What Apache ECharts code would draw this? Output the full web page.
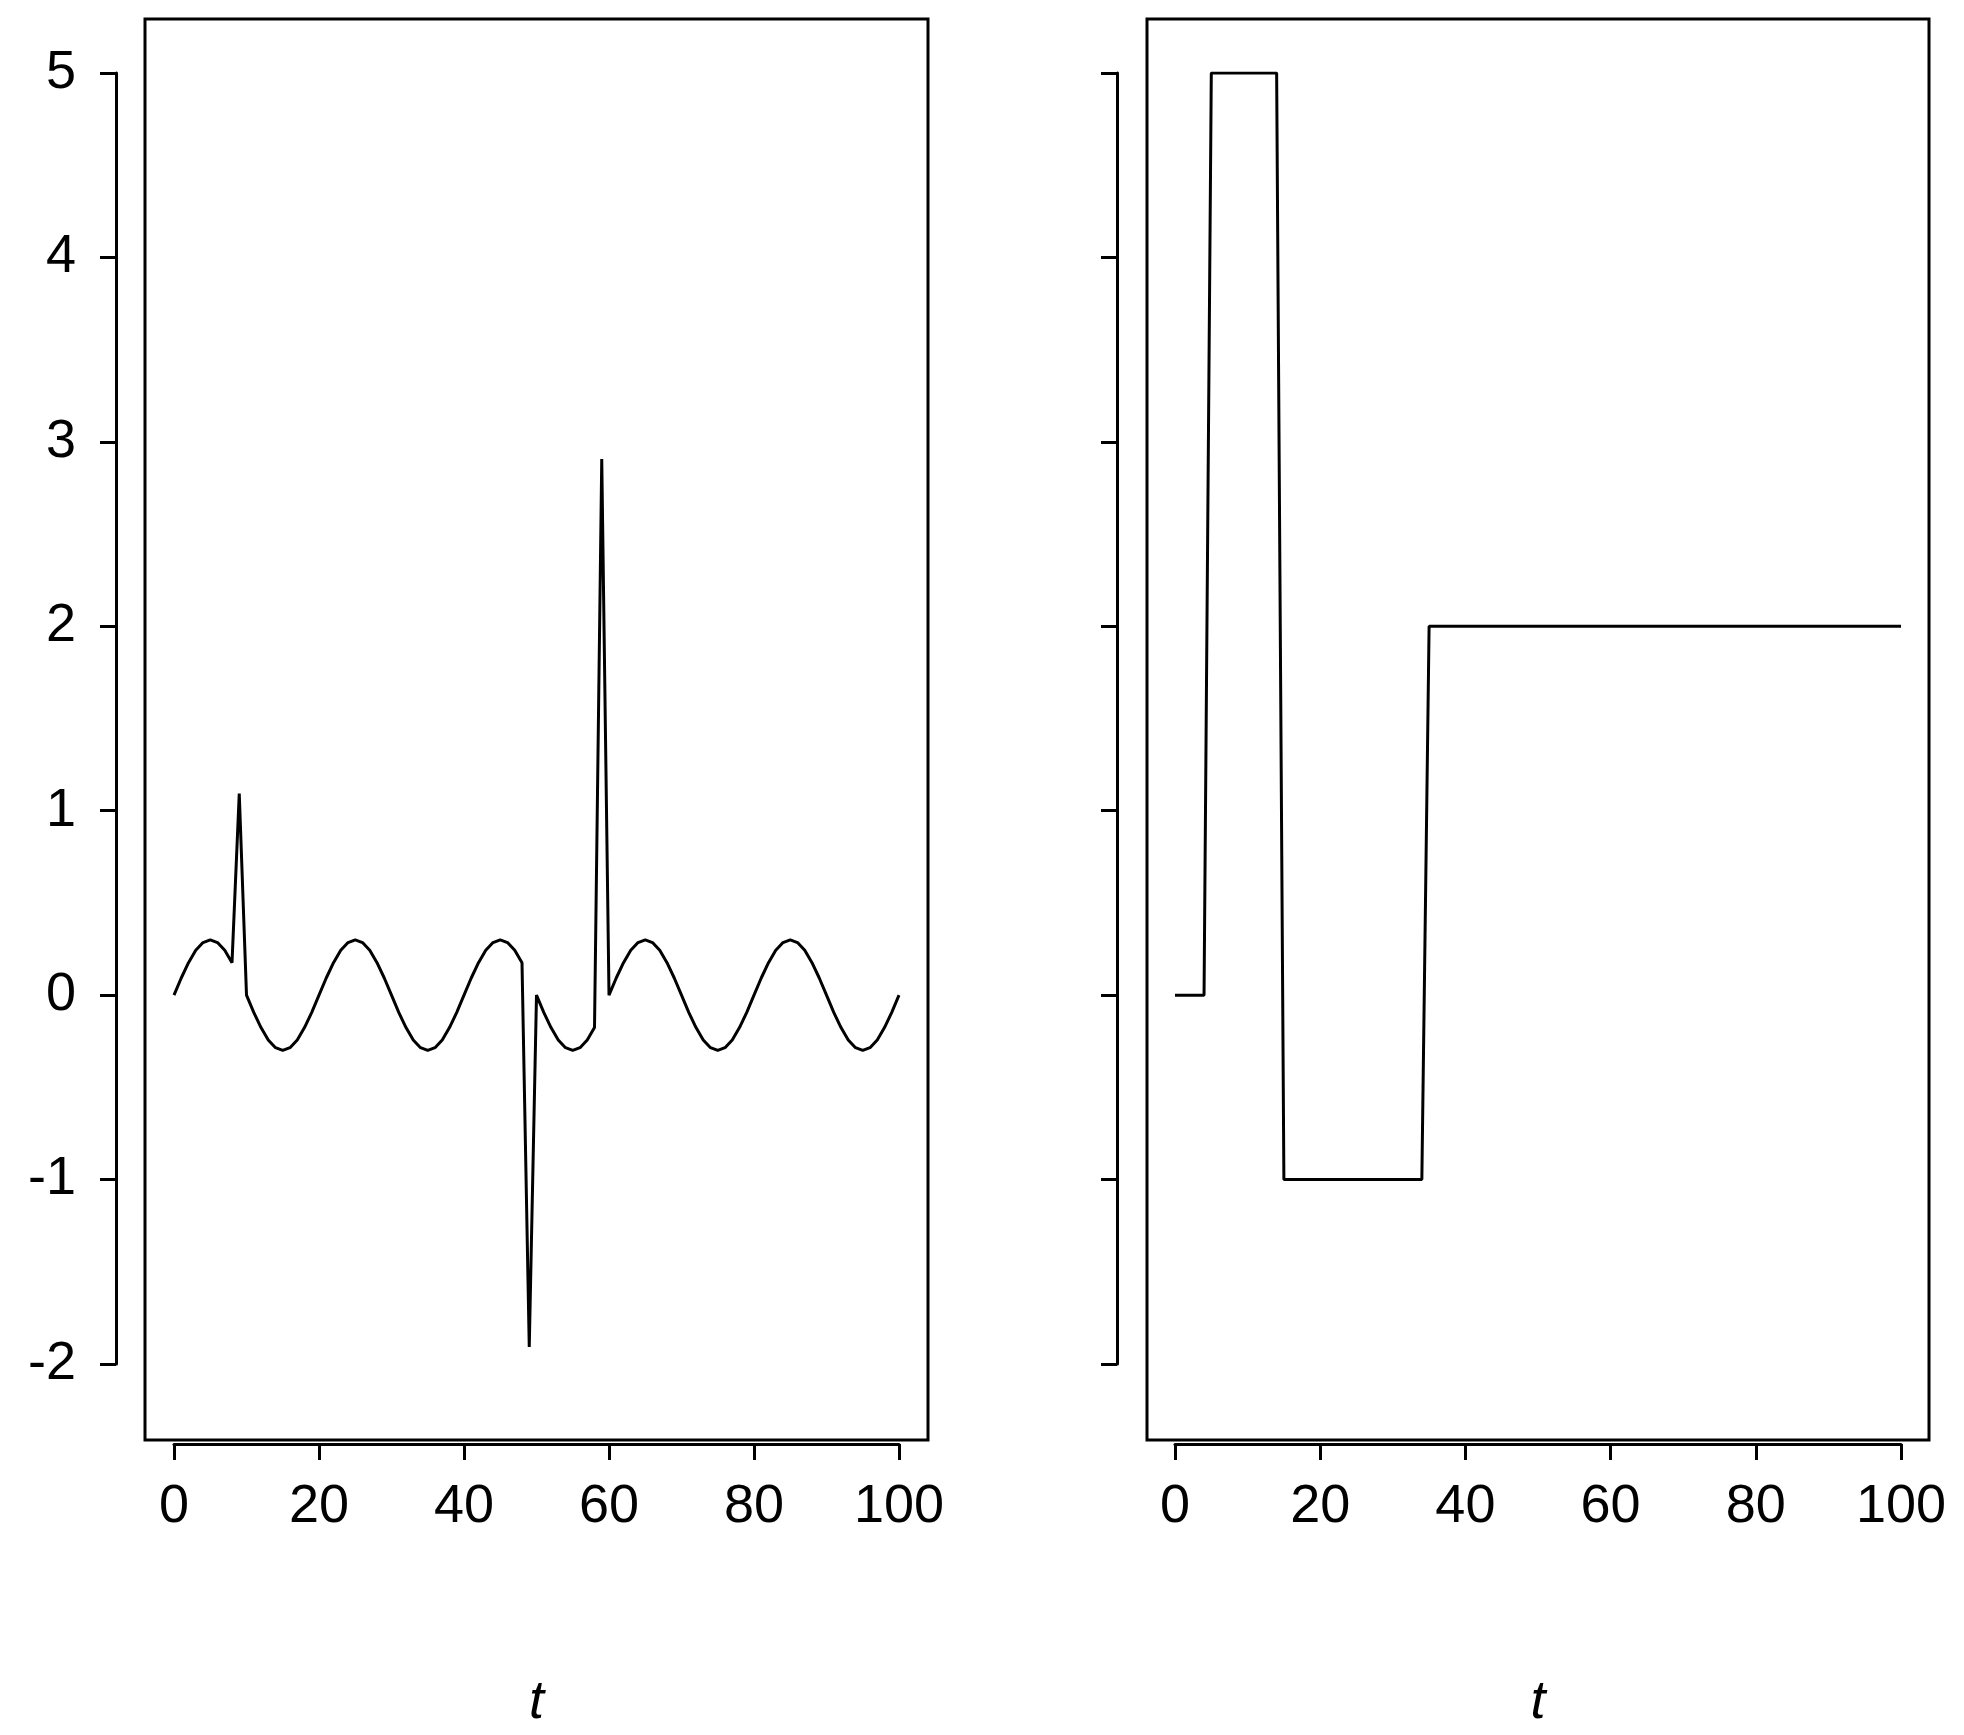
<!DOCTYPE html>
<html>
<head>
<meta charset="utf-8">
<script src="https://cdn.jsdelivr.net/npm/echarts@6/dist/echarts.min.js"></script>
<style>
  html, body { margin: 0; padding: 0; background: #fff; }
  #chart { width: 1964px; height: 1735px; }
</style>
</head>
<body>
<div id="chart"></div>
<script>
// 左图：t = 0..100 的取值
const leftValues = [
  0, 0.093, 0.176, 0.243, 0.285, 0.3, 0.285, 0.243, 0.176, 1.093,
  0, -0.093, -0.176, -0.243, -0.285, -0.3, -0.285, -0.243, -0.176, -0.093,
  0, 0.093, 0.176, 0.243, 0.285, 0.3, 0.285, 0.243, 0.176, 0.093,
  0, -0.093, -0.176, -0.243, -0.285, -0.3, -0.285, -0.243, -0.176, -0.093,
  0, 0.093, 0.176, 0.243, 0.285, 0.3, 0.285, 0.243, 0.176, -1.907,
  0, -0.093, -0.176, -0.243, -0.285, -0.3, -0.285, -0.243, -0.176, 2.907,
  0, 0.093, 0.176, 0.243, 0.285, 0.3, 0.285, 0.243, 0.176, 0.093,
  0, -0.093, -0.176, -0.243, -0.285, -0.3, -0.285, -0.243, -0.176, -0.093,
  0, 0.093, 0.176, 0.243, 0.285, 0.3, 0.285, 0.243, 0.176, 0.093,
  0, -0.093, -0.176, -0.243, -0.285, -0.3, -0.285, -0.243, -0.176, -0.093,
  0
];
// 右图：阶跃函数的拐点
const rightT = [0, 4, 5, 14, 15, 34, 35, 100];
const rightValues = [0, 0, 5, 5, -1, -1, 2, 2];

const chart = echarts.init(document.getElementById('chart'));

const font = 'Liberation Sans, Arial, sans-serif';
const lw = 3;

function innerX(idx) {
  return {
    gridIndex: idx, type: 'value', min: 0, max: 100, interval: 20,
    position: 'bottom', offset: 80,
    axisLine: { show: true, onZero: false, lineStyle: { color: '#000', width: lw } },
    axisTick: { show: true, length: 16, lineStyle: { color: '#000', width: lw } },
    axisLabel: { show: true, margin: 36, fontSize: 54, color: '#000', fontFamily: font },
    splitLine: { show: false },
    name: 't', nameLocation: 'middle', nameGap: 232,
    nameTextStyle: { fontSize: 54, fontStyle: 'italic', color: '#000', fontFamily: font }
  };
}
function innerY(idx, labels) {
  return {
    gridIndex: idx, type: 'value', min: -2, max: 5, interval: 1,
    position: 'left', offset: 58,
    axisLine: { show: true, onZero: false, lineStyle: { color: '#000', width: lw } },
    axisTick: { show: true, length: 16, lineStyle: { color: '#000', width: lw } },
    axisLabel: { show: labels, margin: 40, fontSize: 54, color: '#000', fontFamily: font },
    splitLine: { show: false }
  };
}
function hidden(idx) {
  return { gridIndex: idx, type: 'value', show: false, min: 0, max: 1, splitLine: { show: false } };
}

const option = {
  animation: false,
  backgroundColor: '#fff',
  grid: [
    { left: 174, width: 725, top: 73, height: 1315 },
    { left: 1175, width: 726, top: 73, height: 1315 },
    { left: 145, width: 783, top: 19, height: 1421, show: true, borderColor: '#000', borderWidth: lw, backgroundColor: 'transparent' },
    { left: 1147, width: 782, top: 19, height: 1421, show: true, borderColor: '#000', borderWidth: lw, backgroundColor: 'transparent' }
  ],
  xAxis: [innerX(0), innerX(1), hidden(2), hidden(3)],
  yAxis: [innerY(0, true), innerY(1, false), hidden(2), hidden(3)],
  series: [
    {
      type: 'line', xAxisIndex: 0, yAxisIndex: 0, showSymbol: false,
      data: leftValues.map((v, i) => [i, v]),
      lineStyle: { color: '#000', width: lw }
    },
    {
      type: 'line', xAxisIndex: 1, yAxisIndex: 1, showSymbol: false,
      data: rightT.map((t, i) => [t, rightValues[i]]),
      lineStyle: { color: '#000', width: lw }
    }
  ]
};

chart.setOption(option);
</script>
</body>
</html>
